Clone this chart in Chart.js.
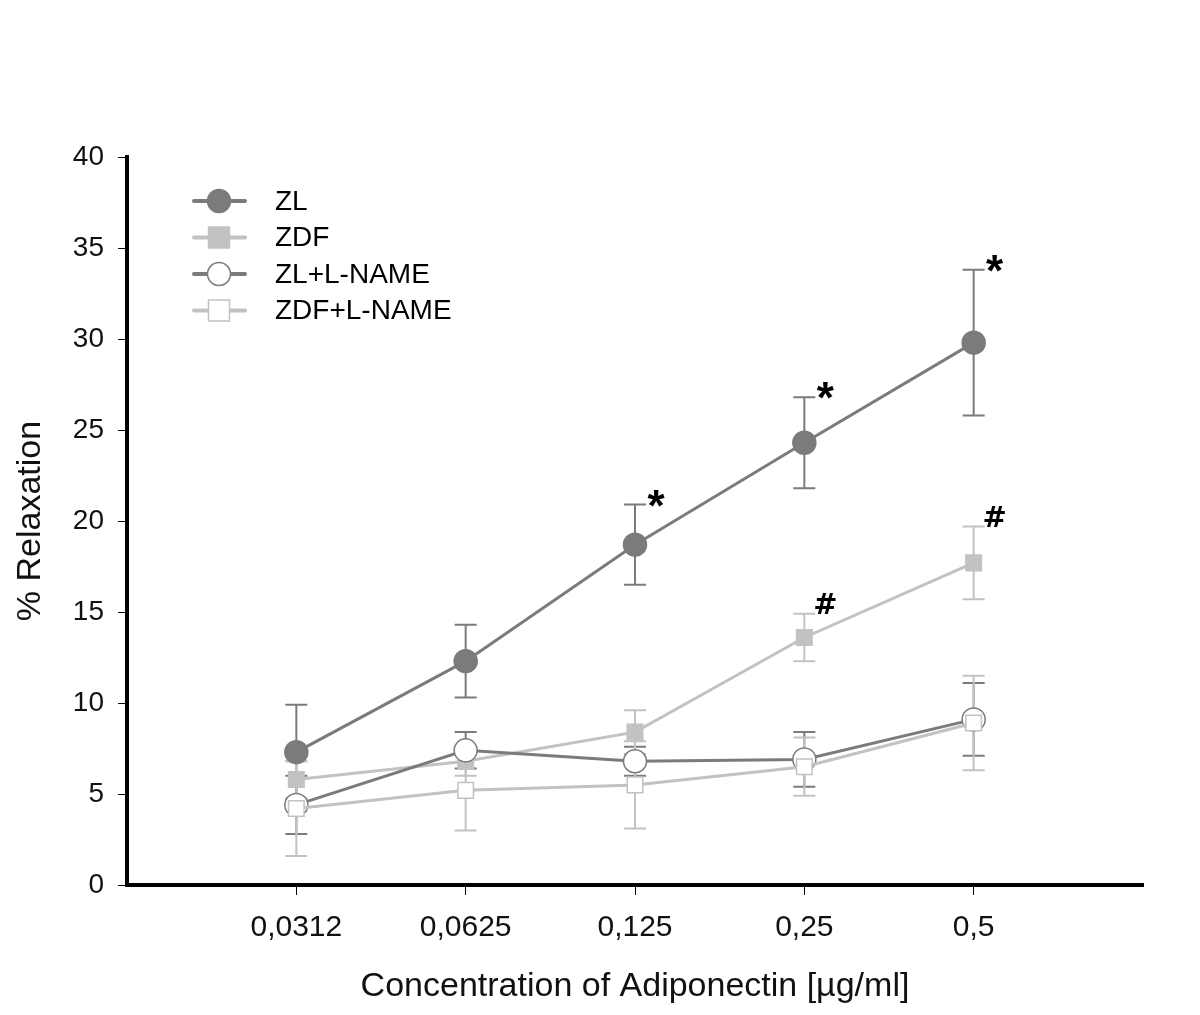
<!DOCTYPE html>
<html>
<head>
<meta charset="utf-8">
<script src="https://cdn.jsdelivr.net/npm/chart.js@4"></script>
<style>
  body { margin: 0; background: #fff; }
  #wrap { width: 1200px; height: 1015px; }
</style>
</head>
<body>
<div id="wrap"><canvas id="relaxChart"></canvas></div>
<script>
const concentrations = ['0,0312', '0,0625', '0,125', '0,25', '0,5'];
const seriesNames = ['ZL', 'ZDF', 'ZL+L-NAME', 'ZDF+L-NAME'];

const zl = [7.3, 12.3, 18.7, 24.3, 29.8];
const zdf = [5.8, 6.8, 8.4, 13.6, 17.7];
const zlLname = [4.4, 7.4, 6.8, 6.9, 9.1];
const zdfLname = [4.2, 5.2, 5.5, 6.5, 8.9];

const zlErr = [2.6, 2.0, 2.2, 2.5, 4.0];
const zdfErr = [1.0, 0.8, 1.2, 1.3, 2.0];
const zlLnameErr = [1.6, 1.0, 0.8, 1.5, 2.0];
const zdfLnameErr = [2.6, 2.2, 2.4, 1.6, 2.6];

// significance marks: [series index, point index, text]
const marks = [
  [0, 2, '*'], [0, 3, '*'], [0, 4, '*'],
  [1, 3, '#'], [1, 4, '#']
];

const dark = '#7b7b7b';
const light = '#c2c2c2';
const fontFamily = '"Liberation Sans", Arial, sans-serif';

const toPoints = vals => vals.map((v, i) => ({ x: i + 1, y: v }));

const datasets = [
  { label: seriesNames[0], data: toPoints(zl), err: zlErr, borderColor: dark, backgroundColor: dark,
    pointStyle: 'circle', pointRadius: 11.5, pointBorderColor: dark, order: 4 },
  { label: seriesNames[1], data: toPoints(zdf), err: zdfErr, borderColor: light, backgroundColor: light,
    pointStyle: 'rect', pointRadius: 11, pointBorderColor: light, order: 3 },
  { label: seriesNames[2], data: toPoints(zlLname), err: zlLnameErr, borderColor: dark, backgroundColor: '#fff',
    pointStyle: 'circle', pointRadius: 11.5, pointBorderColor: dark, order: 2 },
  { label: seriesNames[3], data: toPoints(zdfLname), err: zdfLnameErr, borderColor: light, backgroundColor: '#fff',
    pointStyle: 'rect', pointRadius: 11, pointBorderColor: light, order: 1 }
].map(d => Object.assign(d, {
  borderWidth: 3,
  pointBorderWidth: 1.5,
  pointBackgroundColor: d.backgroundColor,
  tension: 0
}));

function drawMarker(ctx, ds, x, y) {
  ctx.save();
  ctx.fillStyle = ds.pointBackgroundColor;
  ctx.strokeStyle = ds.pointBorderColor;
  ctx.lineWidth = ds.pointBorderWidth;
  ctx.beginPath();
  if (ds.pointStyle === 'circle') {
    ctx.arc(x, y, ds.pointRadius, 0, Math.PI * 2);
  } else {
    const h = ds.pointRadius * Math.SQRT1_2 * 1.35;
    ctx.rect(x - h, y - h, h * 2, h * 2);
  }
  ctx.fill();
  ctx.stroke();
  ctx.restore();
}

const errorBars = {
  id: 'errorBars',
  beforeDatasetsDraw(chart) {
    const { ctx, scales: { x, y } } = chart;
    ctx.save();
    ctx.lineWidth = 2;
    chart.data.datasets.forEach(ds => {
      ctx.strokeStyle = ds.borderColor;
      ds.data.forEach((p, i) => {
        const px = x.getPixelForValue(p.x);
        const top = y.getPixelForValue(p.y + ds.err[i]);
        const bot = y.getPixelForValue(p.y - ds.err[i]);
        ctx.beginPath();
        ctx.moveTo(px, top); ctx.lineTo(px, bot);
        ctx.moveTo(px - 11, top); ctx.lineTo(px + 11, top);
        ctx.moveTo(px - 11, bot); ctx.lineTo(px + 11, bot);
        ctx.stroke();
      });
    });
    ctx.restore();
  },
  afterDatasetsDraw(chart) {
    const { ctx, scales: { x, y } } = chart;
    ctx.save();
    ctx.fillStyle = '#000';
    ctx.textAlign = 'center';
    ctx.textBaseline = 'middle';
    marks.forEach(([s, i, txt]) => {
      const ds = chart.data.datasets[s];
      const p = ds.data[i];
      const px = x.getPixelForValue(p.x) + 21;
      const py = y.getPixelForValue(p.y + ds.err[i]);
      if (txt === '*') {
        ctx.font = 'bold 44px ' + fontFamily;
        ctx.fillText(txt, px, py + 4);
      } else {
        ctx.font = 'bold 29px "DejaVu Sans", sans-serif';
        ctx.fillText(txt, px, py - 7);
      }
    });

    // legend
    ctx.textAlign = 'left';
    ctx.font = '28px ' + fontFamily;
    chart.data.datasets.forEach((ds, k) => {
      const ly = 201 + k * 36.5;
      ctx.strokeStyle = ds.borderColor;
      ctx.lineWidth = 4;
      ctx.lineCap = 'round';
      ctx.beginPath();
      ctx.moveTo(194, ly); ctx.lineTo(245, ly);
      ctx.stroke();
      drawMarker(ctx, ds, 219, ly);
      ctx.fillStyle = '#000';
      ctx.fillText(ds.label, 275, ly + 1);
    });
    ctx.restore();
  }
};

const titleFont = { family: fontFamily, size: 34 };

new Chart(document.getElementById('relaxChart'), {
  type: 'line',
  data: { datasets },
  plugins: [errorBars],
  options: {
    responsive: true,
    maintainAspectRatio: false,
    animation: false,
    layout: { padding: { top: 157, right: 57, bottom: 0, left: 0 } },
    plugins: { legend: { display: false }, tooltip: { enabled: false } },
    scales: {
      x: {
        type: 'linear',
        min: 0,
        max: 6,
        afterBuildTicks: s => { s.ticks = concentrations.map((c, i) => ({ value: i + 1 })); },
        afterFit: s => { s.height = 130; },
        ticks: {
          font: { family: fontFamily, size: 30 },
          color: '#111',
          padding: 15,
          maxRotation: 0,
          callback: v => concentrations[v - 1]
        },
        grid: { drawOnChartArea: false, drawTicks: true, tickLength: 10, color: '#000', lineWidth: 1 },
        border: { display: true, color: '#000', width: 4 },
        title: { display: true, text: 'Concentration of Adiponectin [µg/ml]', font: titleFont, color: '#111', padding: { top: 0, bottom: 8 } }
      },
      y: {
        min: 0,
        max: 40,
        afterFit: s => { s.width = 127; },
        ticks: { stepSize: 5, font: { family: fontFamily, size: 28 }, color: '#111', padding: 14 },
        grid: { drawOnChartArea: false, drawTicks: true, tickLength: 9, color: '#000', lineWidth: 1 },
        border: { display: true, color: '#000', width: 4 },
        title: { display: true, text: '% Relaxation', font: titleFont, color: '#111', padding: { top: 10, bottom: 0 } }
      }
    }
  }
});
</script>
</body>
</html>
